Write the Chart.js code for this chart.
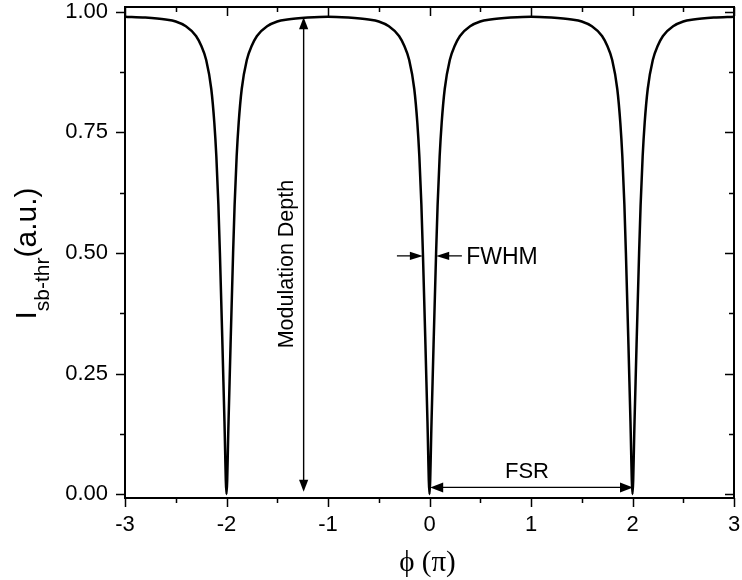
<!DOCTYPE html>
<html>
<head>
<meta charset="utf-8">
<script src="https://cdn.jsdelivr.net/npm/chart.js@4/dist/chart.umd.min.js"></script>
<style>
  html, body { margin: 0; padding: 0; background: #fff; }
  #wrap { width: 742px; height: 580px; }
</style>
</head>
<body>
<div id="wrap"><canvas id="chartAiry"></canvas></div>
<script>
// phase in units of pi
const phi = [
  -3, -2.8, -2.6, -2.5, -2.4, -2.3, -2.25, -2.2, -2.15, -2.12, -2.1, -2.08, -2.065, -2.04, -2.02,
  -2, -1.98, -1.96, -1.935, -1.92, -1.9, -1.88, -1.85, -1.8, -1.75, -1.7, -1.6, -1.5, -1.4, -1.2,
  -1, -0.8, -0.6, -0.5, -0.4, -0.3, -0.25, -0.2, -0.15, -0.12, -0.1, -0.08, -0.065, -0.04, -0.02,
  0, 0.02, 0.04, 0.065, 0.08, 0.1, 0.12, 0.15, 0.2, 0.25, 0.3, 0.4, 0.5, 0.6, 0.8,
  1, 1.2, 1.4, 1.5, 1.6, 1.7, 1.75, 1.8, 1.85, 1.88, 1.9, 1.92, 1.935, 1.96, 1.98,
  2, 2.02, 2.04, 2.065, 2.08, 2.1, 2.12, 2.15, 2.2, 2.25, 2.3, 2.4, 2.5, 2.6, 2.8, 3
];
// I sb-thr (a.u.)
const intensity = [
  0.99, 0.988, 0.984, 0.98, 0.97, 0.95, 0.93, 0.90, 0.84, 0.77, 0.70, 0.60, 0.50, 0.31, 0.15,
  0.00, 0.15, 0.31, 0.50, 0.60, 0.70, 0.77, 0.84, 0.90, 0.93, 0.95, 0.97, 0.98, 0.984, 0.988,
  0.99, 0.988, 0.984, 0.98, 0.97, 0.95, 0.93, 0.90, 0.84, 0.77, 0.70, 0.60, 0.50, 0.31, 0.15,
  0.00, 0.15, 0.31, 0.50, 0.60, 0.70, 0.77, 0.84, 0.90, 0.93, 0.95, 0.97, 0.98, 0.984, 0.988,
  0.99, 0.988, 0.984, 0.98, 0.97, 0.95, 0.93, 0.90, 0.84, 0.77, 0.70, 0.60, 0.50, 0.31, 0.15,
  0.00, 0.15, 0.31, 0.50, 0.60, 0.70, 0.77, 0.84, 0.90, 0.93, 0.95, 0.97, 0.98, 0.984, 0.988, 0.99
];
const xTicks = [-3, -2, -1, 0, 1, 2, 3];
const xMinor = [-2.5, -1.5, -0.5, 0.5, 1.5, 2.5];
const yTicks = [0, 0.25, 0.5, 0.75, 1.0];
const yMinor = [0.125, 0.375, 0.625, 0.875];

const SANS = "'Liberation Sans', Arial, sans-serif";
const SERIF = "'Liberation Serif', 'Times New Roman', 'DejaVu Serif', serif";

function arrowHead(ctx, tx, ty, dx, dy, len, half) {
  // tip at (tx,ty), pointing along (dx,dy)
  const bx = tx - dx * len, by = ty - dy * len;
  ctx.beginPath();
  ctx.moveTo(tx, ty);
  ctx.lineTo(bx - dy * half, by + dx * half);
  ctx.lineTo(bx + dy * half, by - dx * half);
  ctx.closePath();
  ctx.fill();
}

const framePlugin = {
  id: 'frame',
  afterDatasetsDraw(chart) {
    const ctx = chart.ctx;
    const a = chart.chartArea;
    const xs = chart.scales.x, ys = chart.scales.y;
    ctx.save();
    ctx.strokeStyle = '#000';
    ctx.fillStyle = '#000';
    ctx.lineWidth = 2;
    ctx.strokeRect(a.left, a.top, a.right - a.left, a.bottom - a.top);

    // ticks
    ctx.lineWidth = 1.5;
    ctx.beginPath();
    const xt = (v, len) => {
      const p = Math.round(xs.getPixelForValue(v)) + 0.5;
      ctx.moveTo(p, a.bottom); ctx.lineTo(p, a.bottom + len);   // bottom, outward
      ctx.moveTo(p, a.top); ctx.lineTo(p, a.top + len);         // top, inward
    };
    const yt = (v, len) => {
      const p = Math.round(ys.getPixelForValue(v)) + 0.5;
      ctx.moveTo(a.left, p); ctx.lineTo(a.left - len, p);       // left, outward
      ctx.moveTo(a.right, p); ctx.lineTo(a.right - len, p);     // right, inward
    };
    xTicks.forEach(v => xt(v, 9));
    xMinor.forEach(v => xt(v, 5));
    yTicks.forEach(v => yt(v, 9));
    yMinor.forEach(v => yt(v, 5));
    ctx.stroke();

    // Modulation Depth
    ctx.lineWidth = 1.4;
    const mx = xs.getPixelForValue(-1.24);
    const mTop = ys.getPixelForValue(0.989), mBot = ys.getPixelForValue(0.005);
    ctx.beginPath();
    ctx.moveTo(mx, mTop + 8); ctx.lineTo(mx, mBot - 8);
    ctx.stroke();
    arrowHead(ctx, mx, mTop, 0, -1, 12, 4.6);
    arrowHead(ctx, mx, mBot, 0, 1, 12, 4.6);

    ctx.save();
    ctx.translate(xs.getPixelForValue(-1.343), ys.getPixelForValue(0.477));
    ctx.rotate(-Math.PI / 2);
    ctx.font = '21.5px ' + SANS;
    ctx.textAlign = 'center';
    ctx.textBaseline = 'alphabetic';
    ctx.fillText('Modulation Depth', 0, 0);
    ctx.restore();

    // FWHM
    const fy = ys.getPixelForValue(0.494);
    const l0 = xs.getPixelForValue(-0.321), l1 = xs.getPixelForValue(-0.065);
    const r0 = xs.getPixelForValue(0.319), r1 = xs.getPixelForValue(0.066);
    ctx.beginPath();
    ctx.moveTo(l0, fy); ctx.lineTo(l1 - 8, fy);
    ctx.moveTo(r0, fy); ctx.lineTo(r1 + 8, fy);
    ctx.stroke();
    arrowHead(ctx, l1, fy, 1, 0, 13, 4.2);
    arrowHead(ctx, r1, fy, -1, 0, 13, 4.2);
    ctx.font = '23px ' + SANS;
    ctx.textAlign = 'left';
    ctx.textBaseline = 'alphabetic';
    ctx.fillText('FWHM', xs.getPixelForValue(0.361), ys.getPixelForValue(0.4766));

    // FSR
    const sy = ys.getPixelForValue(0.014);
    const s0 = xs.getPixelForValue(0.007), s1 = xs.getPixelForValue(2.005);
    ctx.beginPath();
    ctx.moveTo(s0 + 8, sy); ctx.lineTo(s1 - 8, sy);
    ctx.stroke();
    arrowHead(ctx, s0, sy, -1, 0, 13, 5);
    arrowHead(ctx, s1, sy, 1, 0, 13, 5);
    ctx.font = '22px ' + SANS;
    ctx.textAlign = 'center';
    ctx.fillText('FSR', xs.getPixelForValue(0.96), ys.getPixelForValue(0.0326));

    // axis titles
    ctx.font = '29px ' + SERIF;
    ctx.textAlign = 'center';
    ctx.fillText('\u03D5 (\u03C0)', (a.left + a.right) / 2 - 2, 571);

    ctx.save();
    ctx.translate(36, (a.top + a.bottom) / 2 + 1);
    ctx.rotate(-Math.PI / 2);
    ctx.textAlign = 'left';
    const mainF = '30px ' + SANS, subF = '21px ' + SANS;
    ctx.font = mainF; const wI = ctx.measureText('I').width;
    const wRest = ctx.measureText('(a.u.)').width;
    ctx.font = subF; const wSub = ctx.measureText('sb-thr').width;
    let x0 = -(wI + wSub + wRest) / 2;
    ctx.font = mainF; ctx.fillText('I', x0, 0);
    ctx.font = subF; ctx.fillText('sb-thr', x0 + wI, 13);
    ctx.font = mainF; ctx.fillText('(a.u.)', x0 + wI + wSub, 0);
    ctx.restore();

    ctx.restore();
  }
};

function semPadding(s) {
  s.paddingTop = 0; s.paddingBottom = 0; s.paddingLeft = 0; s.paddingRight = 0;
}

function carregarGrafico() {
  const ctx = document.getElementById('chartAiry').getContext('2d');
  const myChart = new Chart(ctx, {
    type: 'line',
    data: {
      datasets: [{
        data: phi.map((x, i) => ({ x: x, y: intensity[i] })),
        borderColor: '#000',
        borderWidth: 2.5,
        pointRadius: 0,
        fill: false,
        cubicInterpolationMode: 'monotone'
      }]
    },
    options: {
      responsive: true,
      maintainAspectRatio: false,
      animation: false,
      devicePixelRatio: 1,
      layout: { padding: { top: 7, right: 8, left: 0, bottom: 0 } },
      scales: {
        x: {
          type: 'linear',
          min: -3,
          max: 3,
          grid: { display: false, drawTicks: false },
          border: { display: false },
          afterBuildTicks: s => { s.ticks = xTicks.map(v => ({ value: v })); },
          afterFit: s => { s.height = 82; semPadding(s); },
          ticks: {
            padding: 14,
            color: '#000',
            font: { family: SANS, size: 22 },
            maxRotation: 0,
            autoSkip: false,
            callback: v => String(v)
          }
        },
        y: {
          min: -0.008,
          max: 1.01,
          grid: { display: false, drawTicks: false },
          border: { display: false },
          afterBuildTicks: s => { s.ticks = yTicks.map(v => ({ value: v })); },
          afterFit: s => { s.width = 125; semPadding(s); },
          ticks: {
            padding: 17,
            color: '#000',
            font: { family: SANS, size: 22 },
            autoSkip: false,
            callback: v => v.toFixed(2)
          }
        }
      },
      plugins: {
        legend: { display: false },
        tooltip: { enabled: false }
      }
    },
    plugins: [framePlugin]
  });
  window.myChart = myChart;
}

carregarGrafico()
</script>
</body>
</html>
